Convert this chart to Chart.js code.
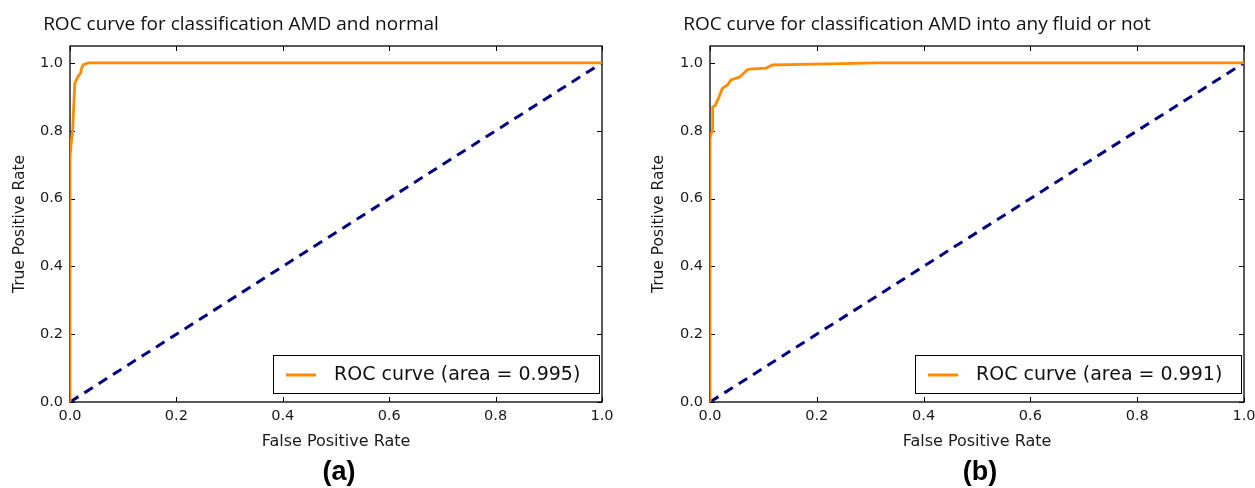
<!DOCTYPE html>
<html>
<head>
<meta charset="utf-8">
<script src="https://cdn.jsdelivr.net/npm/chart.js@4.4.1/dist/chart.umd.min.js"></script>
<style>
body { margin: 0; background: #fff; }
#wrap { position: relative; width: 1255px; height: 488px; overflow: hidden; }
canvas { position: absolute; top: 0; }
.title { position: absolute; top: 10px; width: 600px; text-align: center; font-family: "Open Sans"; font-size: 19px; line-height: 26px; color: #111; white-space: nowrap; }
.cap { position: absolute; top: 455px; width: 100px; text-align: center; font-family: "Liberation Sans"; font-weight: bold; font-size: 27px; line-height: 32px; color: #000; }
</style>
</head>
<body>
<div id="wrap">
  <canvas id="rocA" width="628" height="488" style="left:0px"></canvas>
  <canvas id="rocB" width="629" height="488" style="left:626px"></canvas>
  <div class="title" style="left:-59px">ROC curve for classification AMD and normal</div>
  <div class="title" style="left:617px">ROC curve for classification AMD into any fluid or not</div>
  <div class="cap" style="left:289px">(a)</div>
  <div class="cap" style="left:930px">(b)</div>
</div>
<script>
// (a) AMD vs normal
const fprA = [0, 0, 0.002, 0.005, 0.009, 0.015, 0.02, 0.022, 0.025, 0.035, 1.0];
const tprA = [0, 0.72, 0.76, 0.80, 0.94, 0.96, 0.97, 0.985, 0.995, 1.0, 1.0];
const aucA = 0.995;

// (b) AMD any fluid or not
const fprB = [0, 0, 0.004, 0.005, 0.01, 0.017, 0.023, 0.033, 0.039, 0.055, 0.06, 0.07, 0.075, 0.105, 0.117, 0.17, 0.25, 0.31, 1.0];
const tprB = [0, 0.78, 0.80, 0.87, 0.875, 0.90, 0.925, 0.935, 0.95, 0.958, 0.965, 0.98, 0.982, 0.985, 0.994, 0.996, 0.998, 1.0, 1.0];
const aucB = 0.991;

const chanceX = [0, 1];
const chanceY = [0, 1];
const tickVals = [0, 0.2, 0.4, 0.6, 0.8, 1.0];

Chart.defaults.font.family = 'DejaVu Sans';
Chart.defaults.color = '#1a1a1a';

// box + inward ticks on all four sides, like the matplotlib axes
const framePlugin = {
  id: 'frame',
  beforeDatasetsDraw(chart) {
    const ctx = chart.ctx, a = chart.chartArea;
    const x = chart.scales.x, y = chart.scales.y;
    ctx.save();
    ctx.strokeStyle = '#000';
    ctx.lineWidth = 1.3;
    ctx.strokeRect(a.left, a.top, a.width, a.height);
    ctx.lineWidth = 1;
    ctx.beginPath();
    x.ticks.forEach(t => {
      const px = Math.round(x.getPixelForValue(t.value)) + 0.5;
      ctx.moveTo(px, a.bottom); ctx.lineTo(px, a.bottom - 5);
      ctx.moveTo(px, a.top); ctx.lineTo(px, a.top + 5);
    });
    y.ticks.forEach(t => {
      const py = Math.round(y.getPixelForValue(t.value)) + 0.5;
      ctx.moveTo(a.left, py); ctx.lineTo(a.left + 5, py);
      ctx.moveTo(a.right, py); ctx.lineTo(a.right - 5, py);
    });
    ctx.stroke();
    ctx.restore();
  }
};

// legend box in the lower right corner
const boxLegend = {
  id: 'boxLegend',
  afterDatasetsDraw(chart) {
    const ctx = chart.ctx, a = chart.chartArea;
    const ds = chart.data.datasets[0];
    const w = 326, h = 38;
    const left = a.right - 3 - w, top = a.bottom - 9 - h;
    ctx.save();
    ctx.fillStyle = '#fff';
    ctx.fillRect(left, top, w, h);
    ctx.strokeStyle = '#000';
    ctx.lineWidth = 1;
    ctx.strokeRect(left + 0.5, top + 0.5, w, h);
    ctx.strokeStyle = ds.borderColor;
    ctx.lineWidth = 3;
    ctx.beginPath();
    ctx.moveTo(left + 13, top + h / 2 + 1);
    ctx.lineTo(left + 43, top + h / 2 + 1);
    ctx.stroke();
    ctx.fillStyle = '#111';
    ctx.font = '19px "DejaVu Sans"';
    ctx.textBaseline = 'middle';
    ctx.fillText(ds.label, left + 61, top + h / 2 + 1);
    ctx.restore();
  }
};

function toPoints(xs, ys) {
  return xs.map((v, i) => ({x: v, y: ys[i]}));
}

function makeRoc(id, fpr, tpr, auc, yWidth, yTitlePad, padRight) {
  return new Chart(document.getElementById(id), {
    type: 'line',
    data: {
      datasets: [{
        label: 'ROC curve (area = ' + auc.toFixed(3) + ')',
        data: toPoints(fpr, tpr),
        borderColor: '#ff8c00',
        borderWidth: 2.8,
        pointRadius: 0,
        tension: 0
      }, {
        label: 'chance',
        data: toPoints(chanceX, chanceY),
        borderColor: '#000080',
        borderWidth: 3,
        borderDash: [10, 7],
        pointRadius: 0
      }]
    },
    options: {
      responsive: false,
      animation: false,
      layout: {padding: {left: 0, right: padRight, top: 46, bottom: 33}},
      plugins: {
        legend: {display: false},
        tooltip: {enabled: false}
      },
      scales: {
        x: {
          type: 'linear',
          min: 0,
          max: 1,
          afterBuildTicks: s => { s.ticks = tickVals.map(v => ({value: v})); },
          afterFit: s => { s.height = 53; s.paddingLeft = 0; s.paddingRight = 0; },
          ticks: {autoSkip: false, maxRotation: 0, padding: 6, font: {size: 14.5}, callback: v => v.toFixed(1)},
          grid: {display: false, drawTicks: false},
          border: {display: false},
          title: {display: true, text: 'False Positive Rate', font: {size: 16}, padding: {top: 0, bottom: 4}}
        },
        y: {
          type: 'linear',
          min: 0,
          max: 1.05,
          afterBuildTicks: s => { s.ticks = tickVals.map(v => ({value: v})); },
          afterFit: s => { s.width = yWidth; s.paddingTop = 0; s.paddingBottom = 0; },
          ticks: {autoSkip: false, padding: 7, font: {size: 14.5}, callback: v => v.toFixed(1)},
          grid: {display: false, drawTicks: false},
          border: {display: false},
          title: {display: true, text: 'True Positive Rate', font: {size: 15.5}, padding: {top: yTitlePad, bottom: 0}}
        }
      }
    },
    plugins: [framePlugin, boxLegend]
  });
}

const rocA = makeRoc('rocA', fprA, tprA, aucA, 70, 10.5, 26);
const rocB = makeRoc('rocB', fprB, tprB, aucB, 84, 23.5, 11);
</script>
</body>
</html>
